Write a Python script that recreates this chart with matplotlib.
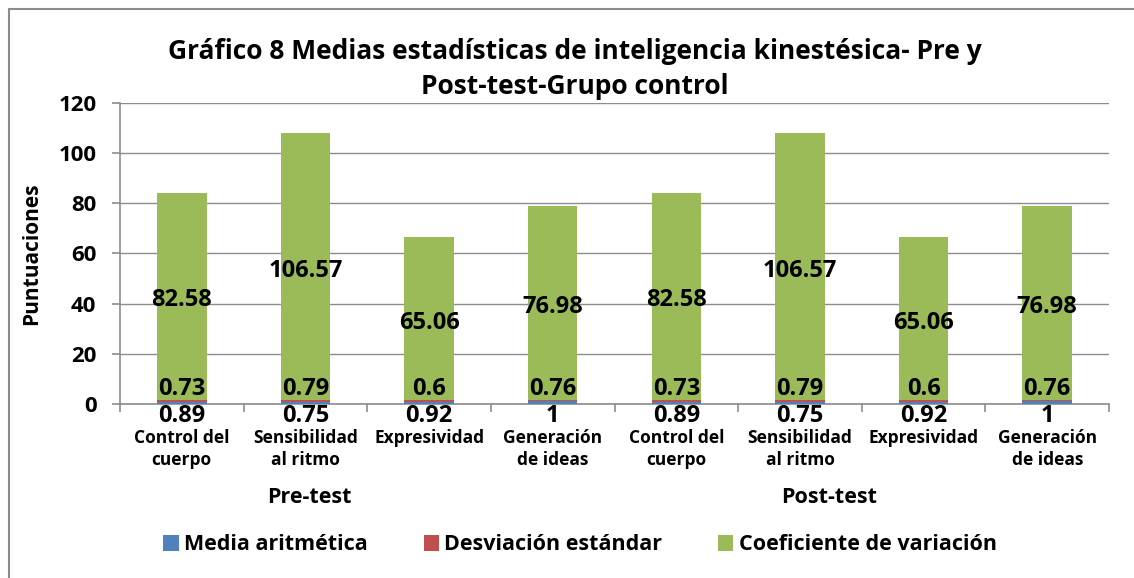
import matplotlib
matplotlib.use("Agg")
import matplotlib.pyplot as plt
from matplotlib.patches import Rectangle
import numpy as np

plt.rcParams['font.family'] = ['Open Sans', 'DejaVu Sans']
plt.rcParams['font.weight'] = 'bold'

categories = ["Control del\ncuerpo", "Sensibilidad\nal ritmo", "Expresividad", "Generación\nde ideas",
              "Control del\ncuerpo", "Sensibilidad\nal ritmo", "Expresividad", "Generación\nde ideas"]
groups = ["Pre-test", "Post-test"]
media = [0.89, 0.75, 0.92, 1, 0.89, 0.75, 0.92, 1]
desviacion = [0.73, 0.79, 0.6, 0.76, 0.73, 0.79, 0.6, 0.76]
coeficiente = [82.58, 106.57, 65.06, 76.98, 82.58, 106.57, 65.06, 76.98]
series_names = ["Media aritmética", "Desviación estándar", "Coeficiente de variación"]
colors = ["#4F81BD", "#C0504D", "#9BBB59"]
title = "Gráfico 8 Medias estadísticas de inteligencia kinestésica- Pre y\nPost-test-Grupo control"

W, H = 1134, 578
fig = plt.figure(figsize=(W / 100, H / 100), dpi=100)
fig.patches.append(Rectangle((9 / W, -0.1), 1.2, 1 - 9 / H + 0.1, transform=fig.transFigure,
                             fill=False, edgecolor="#8c8c8c", linewidth=1.5))

ax = fig.add_axes([120 / W, 1 - 404 / H, (1109 - 120) / W, (404 - 102.7) / H])
x = np.arange(len(categories))
bw = 0.40
b1 = ax.bar(x, media, bw, color=colors[0], label=series_names[0], zorder=3)
b2 = ax.bar(x, desviacion, bw, bottom=media, color=colors[1], label=series_names[1], zorder=3)
bottom3 = np.array(media) + np.array(desviacion)
b3 = ax.bar(x, coeficiente, bw, bottom=bottom3, color=colors[2], label=series_names[2], zorder=3)

lfs = 17
for i in range(len(x)):
    ax.annotate(f"{coeficiente[i]:g}", (x[i], bottom3[i] + coeficiente[i] / 2), xytext=(0, -3),
                textcoords="offset points", ha="center", va="center",
                fontsize=lfs, fontweight="bold", zorder=5)
    ax.annotate(f"{desviacion[i]:g}", (x[i], 0), xytext=(0, 11), textcoords="offset points",
                ha="center", va="center", fontsize=lfs, fontweight="bold", zorder=5)
    ax.annotate(f"{media[i]:g}", (x[i], 0), xytext=(0, -9), textcoords="offset points",
                ha="center", va="center", fontsize=lfs, fontweight="bold", zorder=5)

ax.set_xlim(-0.5, len(x) - 0.5)
ax.set_ylim(0, 120)
ax.set_yticks(np.arange(0, 121, 20))
ax.yaxis.grid(True, color="#8c8c8c", linewidth=1, zorder=0)
ax.set_axisbelow(True)
for s in ["top", "right"]:
    ax.spines[s].set_visible(False)
for s in ["left", "bottom"]:
    ax.spines[s].set_color("#8c8c8c")
    ax.spines[s].set_linewidth(1.2)
ax.tick_params(axis="y", length=6, color="#8c8c8c", width=1.2, labelsize=16, pad=11)
ax.set_xticks(np.arange(-0.5, len(x) + 0.5, 1))
ax.set_xticklabels([])
ax.tick_params(axis="x", length=6, color="#8c8c8c", width=1.2)
for lab in ax.get_yticklabels():
    lab.set_fontweight("bold")

for i, c in enumerate(categories):
    ax.annotate(c, (x[i], 0), xytext=(0, -18), textcoords="offset points", ha="center", va="top",
                fontsize=12.5, fontweight="bold", linespacing=1.3)
for gx, g in zip([1.03, 5.24], groups):
    ax.annotate(g, (gx, 0), xytext=(0, -67), textcoords="offset points", ha="center", va="center",
                fontsize=15.5, fontweight="bold")

ax.set_ylabel("Puntuaciones", fontsize=15, fontweight="bold")
ax.yaxis.set_label_coords(-(120 - 42) / (1109 - 120), 0.5)

fig.text(575 / W, 1 - 69 / H, title, ha="center", va="center", fontsize=19, fontweight="bold",
         linespacing=1.38)

leg = fig.legend(handles=[b1, b2, b3], labels=series_names, loc="center", ncol=3,
                 bbox_to_anchor=(580 / W, 1 - 545 / H), frameon=False, fontsize=15.5,
                 handlelength=0.7, handleheight=0.7, handletextpad=0.25, columnspacing=2.6)
for t in leg.get_texts():
    t.set_fontweight("bold")

fig.savefig("out.png", dpi=100)
